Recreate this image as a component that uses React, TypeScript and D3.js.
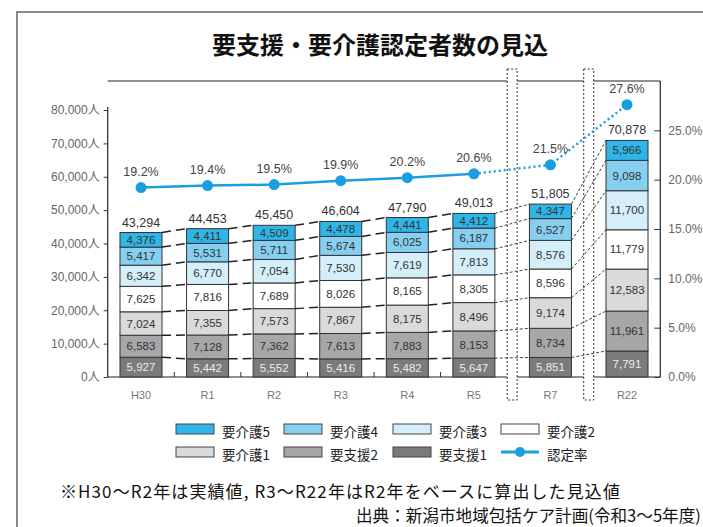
import React, { useEffect, useRef } from "react";
import * as d3 from "d3";

// ---- data ----
const categories = ["H30", "R1", "R2", "R3", "R4", "R5", "R7", "R22"];
const afterBreak = ["R7", "R22"]; // categories preceded by an axis break
const seriesNames = ["要支援1", "要支援2", "要介護1", "要介護2", "要介護3", "要介護4", "要介護5"];
const shien1 = [5927, 5442, 5552, 5416, 5482, 5647, 5851, 7791];
const shien2 = [6583, 7128, 7362, 7613, 7883, 8153, 8734, 11961];
const kaigo1 = [7024, 7355, 7573, 7867, 8175, 8496, 9174, 12583];
const kaigo2 = [7625, 7816, 7689, 8026, 8165, 8305, 8596, 11779];
const kaigo3 = [6342, 6770, 7054, 7530, 7619, 7813, 8576, 11700];
const kaigo4 = [5417, 5531, 5711, 5674, 6025, 6187, 6527, 9098];
const kaigo5 = [4376, 4411, 4509, 4478, 4441, 4412, 4347, 5966];
const rates = [19.2, 19.4, 19.5, 19.9, 20.2, 20.6, 21.5, 27.6];
const leftTicks = [0, 10000, 20000, 30000, 40000, 50000, 60000, 70000, 80000];
const rightTicks = [0, 5, 10, 15, 20, 25];
const legendRow1 = ["要介護5", "要介護4", "要介護3", "要介護2"];
const legendRow2 = ["要介護1", "要支援2", "要支援1", "認定率"];
const title = "要支援・要介護認定者数の見込";
const footnote = "※H30～R2年は実績値, R3～R22年はR2年をベースに算出した見込値";
const source = "出典：新潟市地域包括ケア計画(令和3～5年度)";

const seriesValues = [shien1, shien2, kaigo1, kaigo2, kaigo3, kaigo4, kaigo5];

const colors: Record<string, string> = {
  "要支援1": "#7b7b7d",
  "要支援2": "#a7a7a9",
  "要介護1": "#dadada",
  "要介護2": "#ffffff",
  "要介護3": "#d4eefa",
  "要介護4": "#86cff1",
  "要介護5": "#2fb5e8",
};
const lineColor = "#1a9ee0";

const W = 703;
const H = 527;
const CJK = "'Noto Sans CJK JP', sans-serif";
const NUM = "'Liberation Sans', 'Noto Sans CJK JP', sans-serif";

const plotTop = 81;
const plotBottom = 377;
const bw = 42;
const breakGap = 0.15;

export default function App() {
  const leftRef = useRef<SVGGElement>(null);
  const rightRef = useRef<SVGGElement>(null);

  // slot positions with breaks
  const slots: number[] = [];
  let extra = 0;
  categories.forEach((c, i) => {
    if (afterBreak.includes(c)) extra += breakGap;
    slots.push(i + extra);
  });
  const x = d3.scaleLinear().domain([0, slots[slots.length - 1]]).range([141, 627]);
  const frameLeft = x(-0.5);
  const frameRight = x(slots[slots.length - 1] + 0.5);
  const y = d3.scaleLinear().domain([0, 80000]).range([plotBottom, 110]);
  const yR = d3.scaleLinear().domain([0, 30]).range([plotBottom, plotTop]);

  const rows = categories.map((c, i) => {
    const r: any = { cat: c };
    seriesNames.forEach((s, k) => (r[s] = seriesValues[k][i]));
    return r;
  });
  const stacked = d3.stack<any>().keys(seriesNames)(rows);
  const totals = categories.map((_, i) => d3.sum(seriesValues, (v) => v[i]));

  const breaks = categories
    .map((c, i) => (afterBreak.includes(c) ? x((slots[i - 1] + slots[i]) / 2) : null))
    .filter((v) => v !== null) as number[];

  useEffect(() => {
    if (leftRef.current) {
      const g = d3.select(leftRef.current);
      g.selectAll("*").remove();
      g.call(
        d3
          .axisLeft(y)
          .tickValues(leftTicks)
          .tickSize(4)
          .tickPadding(4)
          .tickFormat((d) => d3.format(",")(d as number) + "人")
      );
      g.select(".domain").remove();
      g.selectAll("line").attr("stroke", "#333");
      g.selectAll("text").attr("fill", "#666").attr("font-size", 12).attr("font-family", NUM);
    }
    if (rightRef.current) {
      const g = d3.select(rightRef.current);
      g.selectAll("*").remove();
      g.call(
        d3
          .axisRight(yR)
          .tickValues(rightTicks)
          .tickSize(-6)
          .tickPadding(8)
          .tickFormat((d) => d3.format(".1f")(d as number) + "%")
      );
      g.select(".domain").remove();
      g.selectAll("line").attr("stroke", "#333");
      g.selectAll("text").attr("fill", "#666").attr("font-size", 12).attr("font-family", NUM);
    }
  }, []);

  const solidLine = d3
    .line<number>()
    .x((_, i) => x(slots[i]))
    .y((d) => yR(d));
  const firstBreakIdx = categories.findIndex((c) => afterBreak.includes(c));
  const solidPts = rates.slice(0, firstBreakIdx);
  const dottedLine = d3
    .line<number>()
    .x((_, i) => x(slots[i + firstBreakIdx - 1]))
    .y((d) => yR(d));
  const dottedPts = rates.slice(firstBreakIdx - 1);

  const legendCols = [176, 284, 393, 501];

  return (
    <svg
      width={W}
      height={H}
      style={{ position: "absolute", left: 0, top: 0, background: "#fff" }}
    >
      <rect x={0} y={0} width={W} height={H} fill="#fff" />
      {/* outer panel */}
      <rect x={17} y={12} width={W} height={H} fill="#fff" stroke="#8a8a8a" strokeWidth={2} />

      <text
        x={380}
        y={54}
        textAnchor="middle"
        fontFamily={CJK}
        fontWeight={700}
        fontSize={24}
        fill="#111"
      >
        {title}
      </text>

      {/* frame */}
      <line x1={frameLeft} x2={frameRight} y1={plotTop} y2={plotTop} stroke="#222" strokeWidth={1.2} />
      <line x1={frameLeft} x2={frameLeft} y1={y(80000) - 3} y2={plotBottom} stroke="#222" strokeWidth={1.2} />
      <line x1={frameRight} x2={frameRight} y1={plotTop} y2={plotBottom} stroke="#222" strokeWidth={1.2} />
      <line x1={frameLeft} x2={frameRight} y1={plotBottom} y2={plotBottom} stroke="#222" strokeWidth={1.2} />

      {/* x ticks between categories */}
      {categories.slice(0, -1).map((c, i) =>
        afterBreak.includes(categories[i + 1]) ? null : (
          <line
            key={"xt" + c}
            x1={x((slots[i] + slots[i + 1]) / 2)}
            x2={x((slots[i] + slots[i + 1]) / 2)}
            y1={plotBottom}
            y2={plotBottom - 5}
            stroke="#333"
          />
        )
      )}

      {/* break boxes */}
      {breaks.map((bx, i) => (
        <rect
          key={"br" + i}
          x={bx - 5}
          y={69}
          width={10}
          height={331}
          fill="#fff"
          stroke="#333"
          strokeWidth={1}
          strokeDasharray="2,2"
        />
      ))}

      <g ref={leftRef} transform={`translate(${frameLeft},0)`} />
      <g ref={rightRef} transform={`translate(${frameRight},0)`} />

      {/* bars */}
      {stacked.map((layer) => (
        <g key={layer.key}>
          {layer.map((d, i) => (
            <rect
              key={i}
              x={x(slots[i]) - bw / 2}
              y={y(d[1])}
              width={bw}
              height={y(d[0]) - y(d[1])}
              fill={colors[layer.key as string]}
              stroke="#333"
              strokeWidth={1}
            />
          ))}
        </g>
      ))}

      {/* connectors */}
      {stacked.map((layer) =>
        layer.slice(0, -1).map((d, i) => {
          const brk = afterBreak.includes(categories[i + 1]);
          return (
            <line
              key={layer.key + "c" + i}
              x1={x(slots[i]) + bw / 2}
              x2={x(slots[i + 1]) - bw / 2}
              y1={y(d[1])}
              y2={y(layer[i + 1][1])}
              stroke={brk ? "#444" : "#222"}
              strokeWidth={brk ? 1 : 1.5}
              strokeDasharray={brk ? "3,2" : "9,5"}
            />
          );
        })
      )}

      {/* segment labels */}
      {stacked.map((layer) =>
        layer.map((d, i) => (
          <text
            key={layer.key + "l" + i}
            x={x(slots[i])}
            y={(y(d[0]) + y(d[1])) / 2 + 4}
            textAnchor="middle"
            fontFamily={NUM}
            fontSize={11.5}
            fill={layer.key === "要支援1" ? "#ececec" : "#333"}
          >
            {d3.format(",")(d[1] - d[0])}
          </text>
        ))
      )}

      {/* totals */}
      {totals.map((t, i) => (
        <text
          key={"t" + i}
          x={x(slots[i])}
          y={y(t) - 6}
          textAnchor="middle"
          fontFamily={NUM}
          fontSize={12.5}
          fill="#333"
        >
          {d3.format(",")(t)}
        </text>
      ))}

      {/* rate line */}
      <path d={solidLine(solidPts) || ""} fill="none" stroke={lineColor} strokeWidth={2.5} />
      <path
        d={dottedLine(dottedPts) || ""}
        fill="none"
        stroke={lineColor}
        strokeWidth={2.5}
        strokeDasharray="2,3"
      />
      {rates.map((r, i) => (
        <g key={"r" + i}>
          <circle cx={x(slots[i])} cy={yR(r)} r={5.5} fill={lineColor} />
          <text
            x={x(slots[i])}
            y={yR(r) - 12}
            textAnchor="middle"
            fontFamily={NUM}
            fontSize={12.5}
            fill="#444"
          >
            {d3.format(".1f")(r) + "%"}
          </text>
        </g>
      ))}

      {/* x labels */}
      {categories.map((c, i) => (
        <text
          key={"xl" + c}
          x={x(slots[i])}
          y={399}
          textAnchor="middle"
          fontFamily={NUM}
          fontSize={11}
          fill="#777"
        >
          {c}
        </text>
      ))}

      {/* legend */}
      {legendRow1.map((s, j) => (
        <g key={"lg1" + s}>
          <rect x={legendCols[j]} y={424} width={38} height={10} fill={colors[s]} stroke="#444" strokeWidth={1} />
          <text x={legendCols[j] + 46} y={437} fontFamily={CJK} fontSize={13.5} fill="#222">
            {s}
          </text>
        </g>
      ))}
      {legendRow2.map((s, j) => (
        <g key={"lg2" + s}>
          {colors[s] ? (
            <rect x={legendCols[j]} y={447} width={38} height={10} fill={colors[s]} stroke="#444" strokeWidth={1} />
          ) : (
            <g>
              <line x1={legendCols[j]} x2={legendCols[j] + 38} y1={452} y2={452} stroke={lineColor} strokeWidth={3} />
              <circle cx={legendCols[j] + 19} cy={452} r={5} fill={lineColor} />
            </g>
          )}
          <text x={legendCols[j] + 46} y={460} fontFamily={CJK} fontSize={13.5} fill="#222">
            {s}
          </text>
        </g>
      ))}

      <text x={60} y={498} fontFamily={CJK} fontSize={17} letterSpacing={1.1} fill="#111">
        {footnote}
      </text>
      <text x={356} y={522} fontFamily={CJK} fontSize={16.6} fill="#111">
        {source}
      </text>
    </svg>
  );
}
